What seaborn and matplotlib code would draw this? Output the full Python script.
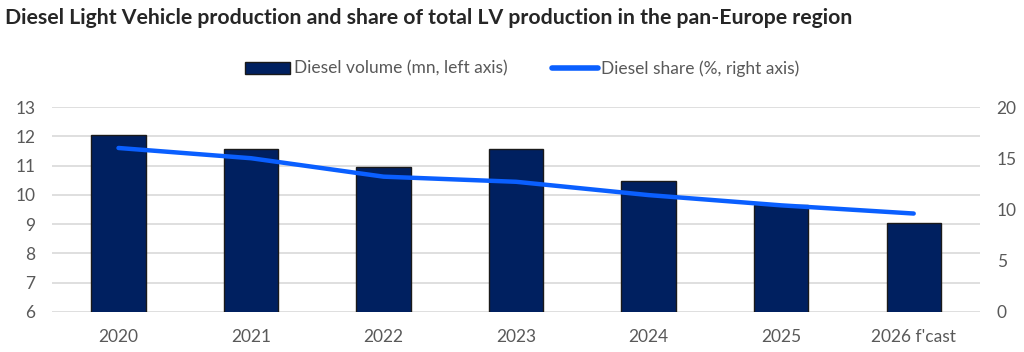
import pandas as pd
import matplotlib.pyplot as plt
import seaborn as sns
from matplotlib.patches import Patch
from matplotlib.lines import Line2D

years = ["2020", "2021", "2022", "2023", "2024", "2025", "2026 f'cast"]
diesel_volume = [12.05, 11.55, 10.95, 11.58, 10.47, 9.65, 9.05]
diesel_share = [16.0, 15.0, 13.2, 12.7, 11.4, 10.4, 9.6]

df = pd.DataFrame({"year": years, "volume": diesel_volume, "share": diesel_share})

bar_color = "#002060"
line_color = "#0a5fff"
grey = "#595959"

sns.set_style("white")
plt.rcParams["font.family"] = ["Lato", "DejaVu Sans"]

fig, ax = plt.subplots(figsize=(10.24, 3.52), dpi=100)
fig.subplots_adjust(left=0.051, right=0.957, top=0.696, bottom=0.114)

sns.barplot(data=df, x="year", y="volume", color=bar_color, width=0.41,
            edgecolor="#1a1a1a", linewidth=1, saturation=1, ax=ax, zorder=2)
ax.set_ylim(6, 13)
ax.set_yticks(range(6, 14))
ax.set_xlim(-0.5, 6.5)
ax.grid(axis="y", color="#d9d9d9", linewidth=1.2, zorder=0)
ax.set_axisbelow(True)
ax.set_xlabel("")
ax.set_ylabel("")

ax2 = ax.twinx()
sns.lineplot(x=range(len(years)), y=df["share"], color=line_color, linewidth=3.2,
             solid_capstyle="round", ax=ax2, zorder=3)
ax2.set_ylim(0, 20)
ax2.set_yticks(range(0, 21, 5))
ax2.set_ylabel("")

for a in (ax, ax2):
    for s in a.spines.values():
        s.set_visible(False)
    a.tick_params(length=0, labelsize=12.5, labelcolor=grey)
ax.tick_params(axis="y", pad=12)
ax2.tick_params(axis="y", pad=12)
ax.tick_params(axis="x", pad=12)

fig.text(0.005, 0.95, "Diesel Light Vehicle production and share of total LV production in the pan-Europe region",
         fontsize=15.3, fontweight="bold", color="#262626", va="center")

handles = [Patch(facecolor=bar_color, edgecolor="#1a1a1a"),
           Line2D([0], [0], color=line_color, linewidth=4, solid_capstyle="round")]
fig.legend(handles, ["Diesel volume (mn, left axis)", "Diesel share (%, right axis)"],
           loc="center", bbox_to_anchor=(0.51, 0.805), ncol=2, frameon=False,
           fontsize=12.5, labelcolor=grey, handlelength=2.6, handletextpad=0.2,
           columnspacing=2.6)

fig.savefig("out.png", dpi=100)
